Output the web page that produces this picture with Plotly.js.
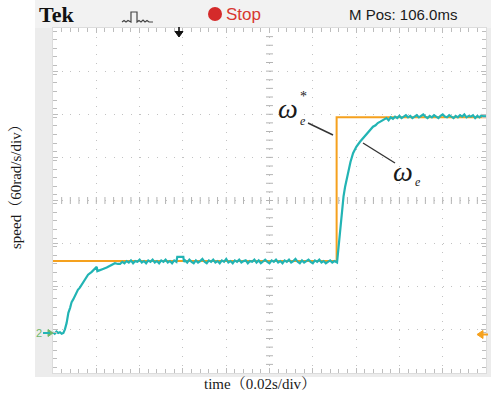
<!DOCTYPE html>
<html>
<head>
<meta charset="utf-8">
<script src="https://cdn.plot.ly/plotly-3.0.1.min.js"></script>
<style>
  html, body { margin: 0; padding: 0; background: #ffffff; }
  #scope { width: 491px; height: 402px; }
</style>
</head>
<body>
<div id="scope"></div>
<script>
// Speed command (ch1) and measured speed (ch2), time in ms, speed in rad/s
const refTime  = [0, 131, 131, 200];
const refSpeed = [100, 100, 300, 300];

const fbTime = [
  0, 0.8, 1.6, 2.4, 3.2, 4.0, 4.8,
  5.5, 6.3, 7.1, 7.9, 8.6, 9.4, 10.2, 11.5, 12.4, 13.3, 14.8, 16.2, 17.9, 19.4, 20.2, 20.5,
  21.7, 23.1, 24.8, 26.3, 27.5, 28.6, 30.0,
  31, 32, 33, 34, 35, 36, 37, 38, 39, 40, 41, 42, 43, 44, 45, 46, 47, 48, 49, 50,
  51, 52, 53, 54, 55, 56, 57, 57.4, 60.2, 60.5, 61, 62, 63, 64, 65, 66, 67, 68, 69, 70,
  71, 72, 73, 74, 75, 76, 77, 78, 79, 80, 81, 82, 83, 84, 85, 86, 87, 88, 89, 90,
  91, 92, 93, 94, 95, 96, 97, 98, 99, 100, 101, 102, 103, 104, 105, 106, 107, 108, 109, 110,
  111, 112, 113, 114, 115, 116, 117, 118, 119, 120, 121, 122, 123, 124, 125, 126, 127, 128, 129, 130,
  131.2, 131.6, 132.1, 132.6, 133.0, 133.5, 134.2, 134.9, 135.6, 136.3, 137.4, 138.6, 140.1,
  141.8, 143.4, 145.0, 146.4, 147.8, 149.0, 150.0, 151.2, 152.4,
  153, 154, 155, 156, 157, 158, 159, 160, 161, 162, 163, 164, 165, 166, 167, 168, 169, 170,
  171, 172, 173, 174, 175, 176, 177, 178, 179, 180, 181, 182, 183, 184, 185, 186, 187, 188,
  189, 190, 191, 192, 193, 194, 195, 196, 197, 198, 199, 200
];
const fbSpeed = [
  1, -1, 2, 0, 1, -1, 0,
  5, 14, 28, 35, 43, 47, 53, 60, 63, 67, 74, 81, 85, 90, 92, 86,
  87, 89, 91, 93, 95, 97, 96,
  96, 99, 97, 100, 98, 101, 97, 100, 99, 102, 98, 100, 97, 101, 99, 102, 98, 100, 97, 101,
  99, 102, 98, 100, 97, 101, 99, 106, 106, 99, 101, 98, 102, 99, 97, 101, 98, 100, 103, 99,
  97, 101, 99, 102, 98, 100, 97, 101, 99, 103, 98, 100, 97, 101, 99, 102, 98, 100, 101, 97,
  100, 99, 102, 98, 101, 97, 100, 102, 99, 97, 101, 99, 102, 98, 100, 97, 101, 99, 102, 98,
  100, 103, 99, 97, 101, 98, 100, 102, 99, 97, 101, 99, 102, 98, 100, 97, 99, 101, 98, 100,
  98, 111, 128, 146, 160, 174, 190, 203, 214, 226, 238, 250, 259,
  266, 272, 278, 283, 287, 289, 292, 294, 296,
  297, 299, 296, 300, 298, 301, 299, 302, 299, 301, 303, 300, 302, 299, 301, 303, 300, 302,
  304, 301, 299, 302, 300, 303, 301, 299, 302, 304, 301, 300, 303, 301, 299, 302, 300, 303,
  301, 304, 300, 302, 301, 303, 299, 302, 300, 303, 301, 302
];

// Graticule: 10 x 8 divisions, 20 ms/div and 60 rad/s/div
const T_MIN = 0, T_MAX = 200, T_DIV = 20;
const W_DIV = 60, W_MIN = -55.7, W_MAX = W_MIN + 8 * W_DIV;
const W_MID = W_MIN + 4 * W_DIV;
const T_MID = (T_MIN + T_MAX) / 2;

// Plot-area geometry in page pixels
const L = 53, R = 486, TOP = 28, BOT = 373;
const PW = R - L, PH = BOT - TOP;
const px = x => (x - L) / PW;
const py = y => (BOT - y) / PH;
const path = pts => pts.map((p, i) => (i ? 'L' : 'M') + px(p[0]).toFixed(4) + ',' + py(p[1]).toFixed(4)).join(' ');

const CYAN = '#22b4b4';
const ORANGE = '#f5a11e';
const GRID = '#c2c2c2';

// centre-cross tick marks, one per fifth of a division
const crossTX = [], crossTY = [], crossWX = [], crossWY = [];
for (let t = T_MIN + T_DIV / 5; t < T_MAX - 0.01; t += T_DIV / 5) { crossTX.push(t); crossTY.push(W_MID); }
for (let w = W_MIN + W_DIV / 5; w < W_MAX - 0.01; w += W_DIV / 5) { crossWX.push(T_MID); crossWY.push(w); }

const traces = [
  { x: crossTX, y: crossTY, type: 'scatter', mode: 'markers', hoverinfo: 'skip',
    marker: { symbol: 'line-ns', size: 5, line: { width: 1, color: '#b4b4b4' } } },
  { x: crossWX, y: crossWY, type: 'scatter', mode: 'markers', hoverinfo: 'skip',
    marker: { symbol: 'line-ew', size: 5, line: { width: 1, color: '#b4b4b4' } } },
  { x: refTime, y: refSpeed, type: 'scatter', mode: 'lines', name: 'ωe*',
    line: { color: ORANGE, width: 2 } },
  { x: fbTime, y: fbSpeed, type: 'scatter', mode: 'lines', name: 'ωe',
    line: { color: CYAN, width: 2.2 } }
];

const serif = 'Liberation Serif, Times New Roman, Noto Serif CJK SC, Noto Sans CJK SC, serif';
const sans = 'Liberation Sans, Arial, sans-serif';

function label(text, x, y, size, opts) {
  return Object.assign({
    text: text, xref: 'paper', yref: 'paper', x: px(x), y: py(y),
    xanchor: 'center', yanchor: 'middle', showarrow: false,
    font: { family: serif, size: size, color: '#1a1a1a' }
  }, opts || {});
}

const annotations = [
  label('<b>Tek</b>', 56.5, 14, 22, { font: { family: serif, size: 22, color: '#111' } }),
  label('Stop', 243, 14, 17, { font: { family: sans, size: 17, color: '#d8372f' } }),
  label('M Pos: 106.0ms', 403, 14, 15, { font: { family: sans, size: 15, color: '#1a1a1a' } }),
  label('2', 39, 333, 11, { font: { family: sans, size: 11, color: '#6fb86a' } }),
  label('speed（60rad/s/div）', 16, 183, 15, { textangle: -90 }),
  label('time（0.02s/div）', 260, 384, 15),
  label('<i>ω</i>', 288, 108, 28),
  label('*', 298.5, 96, 14, { xanchor: 'left', borderpad: 0 }),
  label('<i>e</i>', 298.5, 121, 12, { xanchor: 'left', borderpad: 0 }),
  label('<i>ω</i>', 403, 171, 28),
  label('<i>e</i>', 413.5, 182, 12, { xanchor: 'left', borderpad: 0 })
];

const band = '#ececec';
const shapes = [
  // instrument frame
  { type: 'rect', xref: 'paper', yref: 'paper', layer: 'below', line: { width: 0 }, fillcolor: '#f2f2f2',
    x0: px(35), x1: px(491), y0: py(0), y1: py(TOP) },
  { type: 'rect', xref: 'paper', yref: 'paper', layer: 'below', line: { width: 0 }, fillcolor: band,
    x0: px(35), x1: px(L), y0: py(TOP), y1: py(377) },
  { type: 'rect', xref: 'paper', yref: 'paper', layer: 'below', line: { width: 0 }, fillcolor: band,
    x0: px(L), x1: px(491), y0: py(BOT), y1: py(377) },
  { type: 'rect', xref: 'paper', yref: 'paper', layer: 'below', line: { width: 0 }, fillcolor: band,
    x0: px(R), x1: px(491), y0: py(TOP), y1: py(BOT) },
  // run/stop lamp
  { type: 'circle', xref: 'paper', yref: 'paper', line: { width: 0 }, fillcolor: '#d42a2a',
    x0: px(208), x1: px(222), y0: py(21), y1: py(7) },
  // trigger-type icon
  { type: 'path', xref: 'paper', yref: 'paper', line: { color: '#444', width: 1.2 },
    path: path([[122, 22], [124, 20.5], [126, 22], [128, 20.5], [131, 22], [131, 12], [137, 12], [137, 22],
                [139, 20.5], [141, 22], [143, 20], [145, 22], [147, 20.5], [149, 22], [153, 22]]) },
  // trigger position marker
  { type: 'path', xref: 'paper', yref: 'paper', line: { color: '#111', width: 1.6 },
    path: path([[179, 27], [179, 33]]) },
  { type: 'path', xref: 'paper', yref: 'paper', line: { color: '#111', width: 1 }, fillcolor: '#111',
    path: path([[175, 31.5], [183, 31.5], [179, 37]]) + ' Z' },
  // trigger level marker
  { type: 'path', xref: 'paper', yref: 'paper', line: { color: ORANGE, width: 1 }, fillcolor: ORANGE,
    path: path([[477, 334.5], [483, 330.5], [483, 338.5]]) + ' Z' },
  { type: 'path', xref: 'paper', yref: 'paper', line: { color: ORANGE, width: 2 },
    path: path([[481, 334.5], [488, 334.5]]) },
  // channel ground marker
  { type: 'path', xref: 'paper', yref: 'paper', line: { color: '#6fb86a', width: 1 }, fillcolor: '#6fb86a',
    path: path([[48, 329.5], [53, 333], [48, 336.5]]) + ' Z' },
  { type: 'path', xref: 'paper', yref: 'paper', line: { color: CYAN, width: 2 },
    path: path([[43, 333], [50, 333]]) },
  // leader lines
  { type: 'line', xref: 'paper', yref: 'paper', line: { color: '#333', width: 1.4 },
    x0: px(308), y0: py(123), x1: px(333), y1: py(135) },
  { type: 'line', xref: 'paper', yref: 'paper', line: { color: '#333', width: 1.4 },
    x0: px(363), y0: py(143), x1: px(395), y1: py(163) }
];

const axisCommon = {
  showticklabels: false, zeroline: false, fixedrange: true,
  showgrid: true, gridcolor: GRID, gridwidth: 1,
  showline: true, linecolor: '#dcdcdc', linewidth: 1, mirror: 'ticks',
  ticks: 'inside', ticklen: 5, tickcolor: '#bdbdbd', tickwidth: 1
};

const layout = {
  width: 491, height: 402, autosize: false,
  margin: { l: L, r: 491 - R, t: TOP, b: 402 - BOT, pad: 0 },
  paper_bgcolor: '#ffffff', plot_bgcolor: '#ffffff',
  showlegend: false,
  xaxis: Object.assign({}, axisCommon, {
    range: [T_MIN, T_MAX], tick0: T_MIN, dtick: T_DIV, griddash: '1px,7.63px',
    minor: { dtick: T_DIV / 5, ticks: 'inside', ticklen: 4, tickcolor: '#bdbdbd', showgrid: false }
  }),
  yaxis: Object.assign({}, axisCommon, {
    range: [W_MIN, W_MAX], tick0: W_MIN, dtick: W_DIV, griddash: '1px,7.66px',
    minor: { dtick: W_DIV / 5, ticks: 'inside', ticklen: 4, tickcolor: '#bdbdbd', showgrid: false }
  }),
  annotations: annotations,
  shapes: shapes
};

Plotly.newPlot('scope', traces, layout, { displayModeBar: false, staticPlot: true });
</script>
</body>
</html>
